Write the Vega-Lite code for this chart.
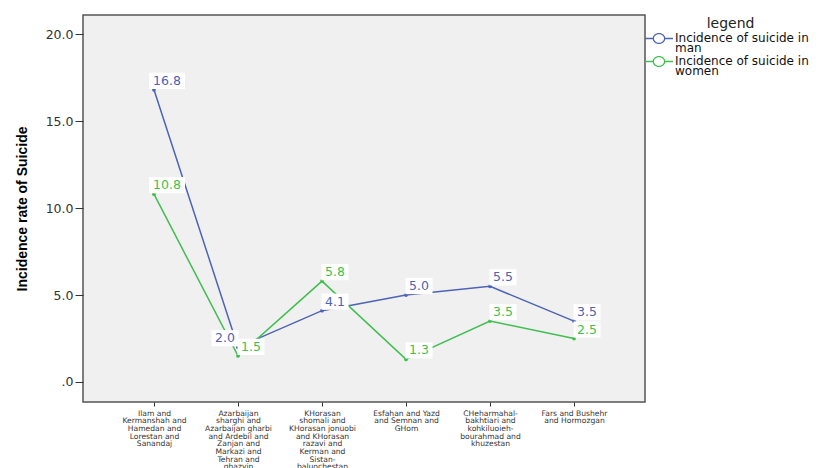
{
  "$schema": "https://vega.github.io/schema/vega-lite/v6.json",
  "width": 562,
  "height": 387,
  "autosize": {"type": "none"},
  "padding": {"left": 83, "top": 15, "right": 181, "bottom": 66},
  "background": "white",
  "config": {
    "view": {"fill": "#f0f0f0", "stroke": "#555555", "strokeWidth": 1.5},
    "font": "DejaVu Sans",
    "style": {"guide-label": {"lineHeight": 10}}
  },
  "data": {
    "values": [
      {"region": "Ilam and|Kermanshah and|Hamedan and|Lorestan and|Sanandaj", "series": "Incidence of suicide in man", "value": 16.8},
      {"region": "Ilam and|Kermanshah and|Hamedan and|Lorestan and|Sanandaj", "series": "Incidence of suicide in women", "value": 10.8},
      {"region": "Azarbaijan|sharghi and|Azarbaijan gharbi|and Ardebil and|Zanjan and|Markazi and|Tehran and|ghazvin", "series": "Incidence of suicide in man", "value": 2.0},
      {"region": "Azarbaijan|sharghi and|Azarbaijan gharbi|and Ardebil and|Zanjan and|Markazi and|Tehran and|ghazvin", "series": "Incidence of suicide in women", "value": 1.5},
      {"region": "KHorasan|shomali and|KHorasan jonuobi|and KHorasan|razavi and|Kerman and|Sistan-|baluochestan", "series": "Incidence of suicide in man", "value": 4.1},
      {"region": "KHorasan|shomali and|KHorasan jonuobi|and KHorasan|razavi and|Kerman and|Sistan-|baluochestan", "series": "Incidence of suicide in women", "value": 5.8},
      {"region": "Esfahan and Yazd|and Semnan and|GHom", "series": "Incidence of suicide in man", "value": 5.0},
      {"region": "Esfahan and Yazd|and Semnan and|GHom", "series": "Incidence of suicide in women", "value": 1.3},
      {"region": "CHeharmahal-|bakhtiari and|kohkiluoieh-|bourahmad and|khuzestan", "series": "Incidence of suicide in man", "value": 5.5},
      {"region": "CHeharmahal-|bakhtiari and|kohkiluoieh-|bourahmad and|khuzestan", "series": "Incidence of suicide in women", "value": 3.5},
      {"region": "Fars and Bushehr|and Hormozgan", "series": "Incidence of suicide in man", "value": 3.5},
      {"region": "Fars and Bushehr|and Hormozgan", "series": "Incidence of suicide in women", "value": 2.5}
    ]
  },
  "encoding": {
    "x": {
      "field": "region",
      "type": "ordinal",
      "sort": null,
      "scale": {"type": "point", "padding": 0.845},
      "axis": {
        "title": null,
        "labelAngle": 0,
        "labelExpr": "split(datum.label, '|')",
        "labelFont": "DejaVu Sans",
        "labelFontSize": 7.6,
        "labelLineHeight": 7.7,
        "labelColor": "#333333",
        "labelLimit": 0,
        "labelPadding": 3,
        "tickSize": 4,
        "tickColor": "#333333",
        "domain": false,
        "grid": false
      }
    },
    "y": {
      "field": "value",
      "type": "quantitative",
      "scale": {"domain": [-1.15, 21.1], "nice": false, "zero": false},
      "axis": {
        "values": [0, 5, 10, 15, 20],
        "labelExpr": "datum.value == 0 ? '.0' : format(datum.value, '.1f')",
        "labelFont": "DejaVu Sans",
        "labelFontSize": 12.5,
        "labelColor": "#333333",
        "labelPadding": 2,
        "tickSize": 8,
        "tickColor": "#333333",
        "domain": false,
        "grid": false,
        "title": "Incidence rate of Suicide",
        "titleFont": "Liberation Sans Narrow, Liberation Sans",
        "titleFontSize": 14,
        "titleFontWeight": "bold",
        "titleColor": "#000000",
        "titlePadding": 16
      }
    }
  },
  "layer": [
    {
      "mark": {"type": "line", "strokeWidth": 1.5},
      "encoding": {
        "color": {
          "field": "series",
          "type": "nominal",
          "scale": {"domain": ["Incidence of suicide in man", "Incidence of suicide in women"], "range": ["#4d63b5", "#3fbf4f"]},
          "legend": {
            "orient": "none",
            "legendX": 569.5,
            "legendY": 1.5,
            "padding": 0,
            "title": "legend",
            "titleFont": "DejaVu Sans",
            "titleFontSize": 14,
            "titleFontWeight": "normal",
            "titleColor": "#222222",
            "titleAnchor": "middle",
            "titlePadding": 1,
            "labelFont": "DejaVu Sans",
            "labelFontSize": 12,
            "labelColor": "#111111",
            "labelOffset": 9.5,
            "labelLimit": 0,
            "labelExpr": "[substring(datum.label, 0, lastindexof(datum.label, ' ')), substring(datum.label, lastindexof(datum.label, ' ') + 1)]",
            "symbolType": "M-0.97,0.075A0.97,0.85 0 1,1 0.97,0.075A0.97,0.85 0 1,1 -0.97,0.075ZM-0.77,0.075A0.77,0.65 0 1,0 0.77,0.075A0.77,0.65 0 1,0 -0.77,0.075ZM-2.15,-0.025H-0.9V0.175H-2.15ZM0.9,-0.025H2.15V0.175H0.9Z",
            "symbolSize": 169,
            "symbolStrokeWidth": 0,
            "rowPadding": -1
          }
        }
      }
    },
    {
      "mark": {"type": "point", "filled": true, "size": 14, "opacity": 1},
      "encoding": {
        "fill": {
          "field": "series",
          "type": "nominal",
          "scale": {"domain": ["Incidence of suicide in man", "Incidence of suicide in women"], "range": ["#4d63b5", "#3fbf4f"]},
          "legend": null
        }
      }
    },
    {
      "transform": [{"filter": "datum.value >= 10"}],
      "mark": {"type": "point", "shape": "M-1,-0.45H1V0.45H-1Z", "filled": true, "color": "white", "opacity": 1, "strokeWidth": 0, "size": 1296, "xOffset": 13, "yOffset": -9}
    },
    {
      "transform": [{"filter": "datum.value < 10 && !(datum.value == 2 && datum.series == 'Incidence of suicide in man')"}],
      "mark": {"type": "point", "shape": "M-1,-0.6H1V0.6H-1Z", "filled": true, "color": "white", "opacity": 1, "strokeWidth": 0, "size": 729, "xOffset": 13, "yOffset": -9}
    },
    {
      "transform": [{"filter": "datum.value == 2 && datum.series == 'Incidence of suicide in man'"}],
      "mark": {"type": "point", "shape": "M-1,-0.6H1V0.6H-1Z", "filled": true, "color": "white", "opacity": 1, "strokeWidth": 0, "size": 729, "xOffset": -13, "yOffset": -9}
    },
    {
      "transform": [{"filter": "!(datum.value == 2 && datum.series == 'Incidence of suicide in man')"}],
      "mark": {"type": "text", "font": "DejaVu Sans", "fontSize": 12.5, "dx": 13, "dy": -9, "align": "center", "baseline": "middle"},
      "encoding": {
        "text": {"field": "value", "type": "quantitative", "format": ".1f"},
        "fill": {
          "field": "series",
          "type": "nominal",
          "scale": {"domain": ["Incidence of suicide in man", "Incidence of suicide in women"], "range": ["#4d63b5", "#3fbf4f"]},
          "legend": null
        }
      }
    },
    {
      "transform": [{"filter": "datum.value == 2 && datum.series == 'Incidence of suicide in man'"}],
      "mark": {"type": "text", "font": "DejaVu Sans", "fontSize": 12.5, "dx": -13, "dy": -9, "align": "center", "baseline": "middle"},
      "encoding": {
        "text": {"field": "value", "type": "quantitative", "format": ".1f"},
        "fill": {
          "field": "series",
          "type": "nominal",
          "scale": {"domain": ["Incidence of suicide in man", "Incidence of suicide in women"], "range": ["#4d63b5", "#3fbf4f"]},
          "legend": null
        }
      }
    }
  ]
}
